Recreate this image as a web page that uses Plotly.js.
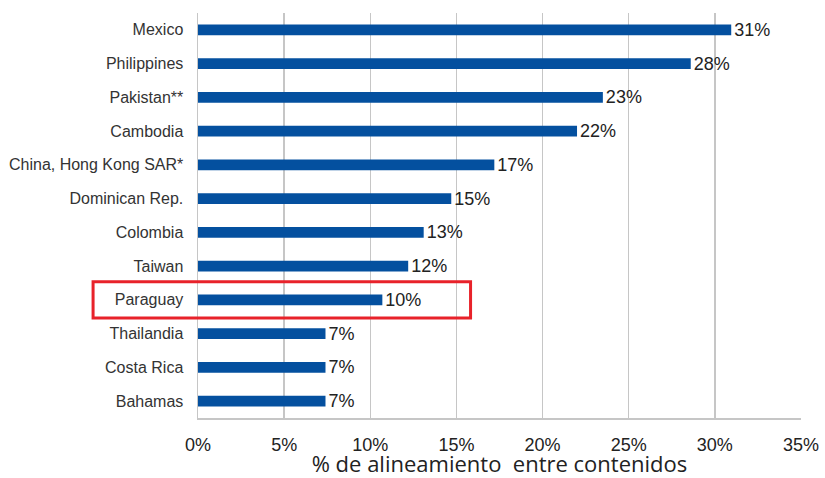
<!DOCTYPE html>
<html>
<head>
<meta charset="utf-8">
<script src="https://cdn.plot.ly/plotly-3.0.1.min.js"></script>
<style>html,body{margin:0;padding:0;background:#fff;}#chart{width:825px;height:478px;}</style>
</head>
<body>
<div id="chart"></div>
<script>
const categories = ['Mexico', 'Philippines', 'Pakistan**', 'Cambodia', 'China, Hong Kong SAR*', 'Dominican Rep.', 'Colombia', 'Taiwan', 'Paraguay', 'Thailandia', 'Costa Rica', 'Bahamas'];
const values = [30.95, 28.6, 23.5, 22.0, 17.2, 14.7, 13.1, 12.2, 10.7, 7.4, 7.4, 7.4];
const valueLabels = ['31%', '28%', '23%', '22%', '17%', '15%', '13%', '12%', '10%', '7%', '7%', '7%'];
const xTicks = [0, 5, 10, 15, 20, 25, 30, 35];
const highlight = 'Paraguay';

const n = categories.length;
const hi = categories.indexOf(highlight);
const yTop = 1 - hi / n;
const yBot = 1 - (hi + 1) / n;
const pad = 0.04 / n;

const trace = {
  type: 'bar',
  orientation: 'h',
  y: categories,
  x: values,
  text: valueLabels,
  textposition: 'outside',
  constraintext: 'none',
  cliponaxis: false,
  textfont: {family: 'Arial', size: 18, color: '#222'},
  marker: {color: '#04509f'},
  width: 0.32,
  hoverinfo: 'x+y'
};

const layout = {
  width: 825,
  height: 478,
  margin: {l: 198, r: 24, t: 13, b: 60},
  paper_bgcolor: '#fff',
  plot_bgcolor: '#fff',
  showlegend: false,
  font: {family: 'Arial', color: '#333'},
  xaxis: {
    range: [0, 35],
    tickvals: xTicks,
    ticktext: xTicks.map(v => v + '%'),
    showgrid: true,
    gridcolor: '#c6c6c6',
    gridwidth: 1.5,
    zeroline: false,
    showline: true,
    linecolor: '#c6c6c6',
    linewidth: 1.5,
    ticks: '',
    ticklabelstandoff: 10,
    tickfont: {family: 'Arial', size: 18, color: '#222'},
    title: {
      text: '% de alineamiento  entre contenidos',
      font: {family: 'Open Sans', size: 22, color: '#222'},
      standoff: 0
    },
    fixedrange: true
  },
  yaxis: {
    type: 'category',
    range: [n - 0.5, -0.5],
    showgrid: false,
    zeroline: false,
    showline: true,
    linecolor: '#c6c6c6',
    linewidth: 1.5,
    ticks: '',
    ticklabelstandoff: 10,
    tickfont: {family: 'Arial', size: 16, color: '#333'},
    fixedrange: true
  },
  shapes: [{
    type: 'rect',
    xref: 'paper', yref: 'paper',
    x0: -0.174, x1: 0.452,
    y0: yBot - pad, y1: yTop + pad,
    line: {color: '#e8222a', width: 3},
    fillcolor: 'rgba(0,0,0,0)'
  }]
};

Plotly.newPlot('chart', [trace], layout, {displayModeBar: false, staticPlot: true});
</script>
</body>
</html>
